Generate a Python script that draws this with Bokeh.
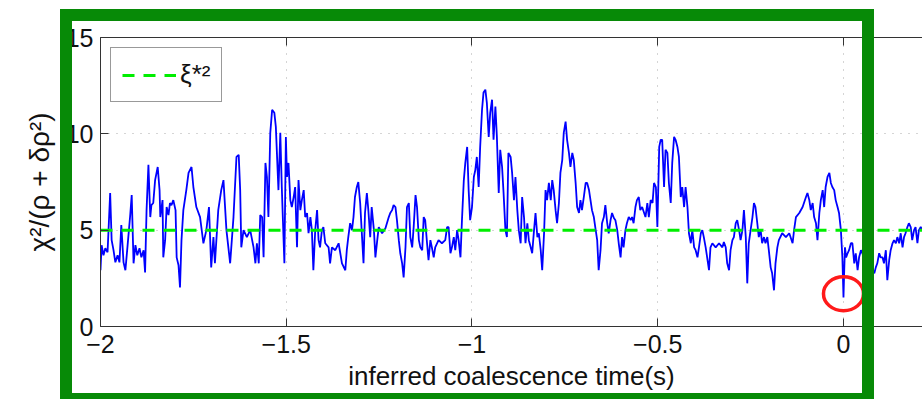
from bokeh.plotting import figure
from bokeh.models import (Range1d, LinearAxis, FixedTicker, Legend, LegendItem, Grid,
                          InlineStyleSheet)
from bokeh.embed import file_html
from bokeh.resources import INLINE

# ---- data (time in s, chi^2/(rho + delta rho^2)) ----
time_a = [-2.000, -1.997, -1.992, -1.987, -1.981, -1.974, -1.970, -1.965, -1.960, -1.954,
          -1.949, -1.944, -1.938, -1.933, -1.927, -1.920, -1.916, -1.911, -1.906, -1.901,
          -1.895, -1.890, -1.884, -1.880, -1.876, -1.871, -1.866, -1.863, -1.858, -1.853,
          -1.846, -1.841, -1.839, -1.833, -1.831, -1.826, -1.822, -1.817, -1.813, -1.809,
          -1.804, -1.798, -1.795, -1.790, -1.786, -1.782, -1.777, -1.769, -1.763, -1.755,
          -1.750, -1.742, -1.732, -1.723, -1.715, -1.708, -1.702, -1.696, -1.692, -1.683,
          -1.675, -1.669, -1.661, -1.651, -1.642, -1.634]
ratio_a = [2.92, 4.22, 3.70, 4.06, 3.85, 6.93, 4.48, 3.96, 3.33, 3.70,
           3.33, 5.26, 3.33, 2.92, 4.22, 5.78, 6.82, 3.28, 4.22, 3.70,
           4.06, 3.59, 3.96, 2.81, 6.04, 8.39, 5.68, 6.30, 6.41, 7.60,
           8.28, 7.08, 5.68, 6.56, 3.59, 4.48, 6.20, 5.78, 6.41, 6.30,
           6.56, 6.04, 3.59, 3.18, 2.03, 4.48, 6.04, 7.08, 7.97, 8.28,
           7.24, 6.20, 5.68, 4.32, 5.00, 6.20, 3.07, 4.64, 3.28, 6.04,
           7.08, 7.60, 5.00, 3.28, 5.68, 8.80]

time_b = [-1.628, -1.624, -1.621, -1.615, -1.606, -1.597, -1.588, -1.583, -1.579, -1.574,
          -1.570, -1.565, -1.561, -1.556, -1.552, -1.548, -1.543, -1.538, -1.532, -1.528,
          -1.521, -1.516, -1.512, -1.505, -1.501, -1.498, -1.494, -1.489, -1.485, -1.480,
          -1.476, -1.471, -1.467, -1.462, -1.458, -1.453, -1.449, -1.444, -1.440, -1.435,
          -1.431, -1.427, -1.422, -1.417, -1.413, -1.409, -1.404, -1.400, -1.395, -1.386,
          -1.382, -1.377, -1.368, -1.359, -1.350, -1.341, -1.337, -1.333, -1.328, -1.323,
          -1.319, -1.315, -1.310, -1.306, -1.301, -1.297, -1.292, -1.288, -1.283, -1.279,
          -1.274, -1.270]
ratio_b = [8.91, 7.08, 4.11, 5.00, 4.64, 5.00, 4.11, 3.28, 4.32, 3.28,
           5.78, 5.68, 3.59, 8.49, 7.76, 5.68, 10.05, 11.25, 11.09, 10.36,
           7.08, 10.05, 7.24, 3.28, 9.84, 7.76, 8.49, 6.56, 6.20, 6.72,
           7.24, 4.11, 7.60, 6.04, 6.56, 7.08, 5.68, 5.89, 4.84, 5.68,
           5.00, 2.92, 5.00, 6.04, 4.48, 4.11, 5.00, 5.16, 4.32, 4.11,
           3.28, 4.11, 3.96, 4.32, 3.28, 2.92, 3.96, 4.64, 5.36, 5.00,
           5.68, 6.72, 7.24, 7.50, 6.41, 5.00, 3.28, 5.89, 6.93, 6.04,
           4.64, 6.20]

time_c = [-1.264, -1.260, -1.255, -1.251, -1.242, -1.233, -1.224, -1.220, -1.215, -1.211,
          -1.206, -1.202, -1.197, -1.193, -1.188, -1.184, -1.179, -1.175, -1.170, -1.166,
          -1.161, -1.157, -1.152, -1.148, -1.143, -1.139, -1.134, -1.130, -1.126, -1.121,
          -1.117, -1.112, -1.108, -1.103, -1.099, -1.090, -1.081, -1.072, -1.067, -1.063,
          -1.058, -1.054, -1.049, -1.045, -1.040, -1.036, -1.031, -1.027, -1.022, -1.018,
          -1.013, -1.009, -1.005, -1.000, -0.995, -0.991, -0.987, -0.982, -0.978, -0.973,
          -0.969, -0.964, -0.960, -0.955, -0.951, -0.946, -0.942, -0.937, -0.933, -0.928,
          -0.924, -0.919, -0.915, -0.910, -0.906, -0.902]
ratio_c = [5.00, 3.59, 4.48, 5.16, 4.84, 5.10, 5.68, 5.89, 6.04, 6.30,
           6.20, 5.52, 4.48, 3.80, 3.28, 2.55, 4.11, 6.20, 6.41, 4.64,
           4.11, 5.16, 6.82, 6.20, 4.48, 4.11, 3.96, 5.68, 5.52, 4.32,
           3.44, 4.48, 4.11, 3.59, 4.11, 4.48, 4.32, 4.48, 5.16, 5.16,
           3.80, 4.11, 4.64, 3.96, 5.00, 4.48, 3.59, 5.52, 7.60, 8.49,
           9.32, 7.08, 5.52, 6.20, 7.76, 8.13, 8.80, 7.24, 9.32, 11.25,
           12.14, 12.29, 11.61, 9.84, 11.09, 11.77, 9.69, 11.41, 9.84, 6.93,
           9.17, 8.28, 6.93, 5.00, 4.64, 9.01]

time_d = [-0.896, -0.892, -0.887, -0.883, -0.878, -0.874, -0.869, -0.865, -0.860, -0.856,
          -0.851, -0.847, -0.842, -0.838, -0.833, -0.829, -0.824, -0.820, -0.815, -0.811,
          -0.806, -0.802, -0.798, -0.793, -0.788, -0.784, -0.780, -0.775, -0.771, -0.766,
          -0.762, -0.757, -0.753, -0.748, -0.744, -0.739, -0.735, -0.730, -0.726, -0.721,
          -0.717, -0.712, -0.708, -0.704, -0.699, -0.694, -0.690, -0.685, -0.681, -0.677,
          -0.672, -0.667, -0.663, -0.659, -0.654, -0.650, -0.645, -0.641, -0.636, -0.632,
          -0.627, -0.623, -0.618, -0.614, -0.609, -0.605, -0.600, -0.596, -0.592, -0.587,
          -0.583, -0.578, -0.573, -0.569, -0.565, -0.560, -0.556, -0.551, -0.547, -0.542,
          -0.533]
ratio_d = [8.80, 7.97, 6.56, 7.76, 6.04, 5.00, 4.32, 6.72, 5.68, 4.32,
           5.36, 4.48, 4.11, 3.80, 5.00, 5.89, 4.64, 4.84, 3.96, 2.92,
           4.84, 7.08, 6.56, 7.45, 6.56, 7.60, 7.08, 6.04, 5.36, 6.41,
           7.97, 8.65, 10.05, 10.63, 9.69, 9.01, 8.28, 9.01, 8.65, 7.45,
           6.20, 5.89, 6.56, 6.04, 6.72, 7.45, 7.45, 7.08, 6.56, 6.04,
           5.68, 5.00, 4.48, 2.92, 3.96, 5.36, 5.68, 6.30, 5.36, 4.84,
           5.52, 5.89, 5.63, 5.52, 5.00, 4.32, 3.59, 4.64, 4.11, 5.00,
           5.36, 5.68, 5.52, 5.68, 5.36, 6.20, 6.56, 6.72, 6.04, 6.20,
           5.68]

time_e = [-0.528, -0.524, -0.519, -0.514, -0.510, -0.505, -0.501, -0.496, -0.492, -0.488,
          -0.483, -0.479, -0.474, -0.470, -0.465, -0.461, -0.456, -0.452, -0.447, -0.443,
          -0.438, -0.434, -0.429, -0.425, -0.420, -0.416, -0.411, -0.407, -0.402, -0.398,
          -0.393, -0.389, -0.384, -0.380, -0.376, -0.371, -0.367, -0.362, -0.358, -0.353,
          -0.344, -0.335, -0.326, -0.322, -0.317, -0.313, -0.308, -0.304, -0.299, -0.295,
          -0.290, -0.286, -0.281, -0.277, -0.272, -0.268, -0.263, -0.259, -0.255, -0.250,
          -0.245, -0.241, -0.237, -0.232, -0.228, -0.223, -0.219, -0.214, -0.210, -0.205,
          -0.201, -0.196, -0.192, -0.187, -0.183, -0.178, -0.174, -0.165]
ratio_e = [6.41, 5.68, 6.56, 6.41, 7.45, 7.24, 5.16, 9.32, 9.69, 9.69,
           7.24, 9.17, 9.01, 7.45, 6.41, 8.49, 9.84, 9.69, 9.32, 8.80,
           6.72, 7.24, 6.20, 7.24, 6.20, 4.84, 4.32, 5.00, 4.11, 3.96,
           3.59, 4.11, 4.84, 5.00, 4.64, 4.11, 3.59, 2.92, 4.11, 4.32,
           4.11, 4.32, 4.11, 4.38, 4.11, 3.28, 2.92, 3.96, 4.48, 4.64,
           5.36, 5.52, 5.00, 4.48, 5.00, 6.04, 4.64, 2.24, 4.32, 5.00,
           5.68, 6.41, 6.20, 5.36, 4.64, 5.00, 4.32, 4.64, 4.32, 4.64,
           3.96, 3.07, 2.76, 1.88, 3.28, 4.11, 4.48, 4.84]

time_f = [-0.155, -0.146, -0.137, -0.133, -0.128, -0.119, -0.110, -0.101, -0.097, -0.092,
          -0.088, -0.083, -0.079, -0.074, -0.070, -0.065, -0.061, -0.056, -0.052, -0.048,
          -0.043, -0.038, -0.034, -0.030, -0.025, -0.021, -0.016, -0.012, -0.007, -0.003,
          0.000, 0.002, 0.004, 0.007, 0.011, 0.015, 0.020, 0.024, 0.029, 0.033,
          0.038, 0.042, 0.047, 0.059, 0.070, 0.083, 0.087, 0.091, 0.096, 0.100,
          0.105, 0.109, 0.114, 0.118, 0.123, 0.127, 0.132, 0.136, 0.141, 0.145,
          0.150, 0.154, 0.159, 0.163, 0.167, 0.172, 0.176, 0.181, 0.185, 0.190,
          0.194, 0.199, 0.203, 0.208, 0.213]
ratio_f = [4.64, 4.84, 4.32, 5.00, 5.68, 5.89, 6.20, 6.72, 6.93, 6.56,
           6.04, 6.41, 5.68, 5.36, 4.48, 5.89, 6.56, 7.08, 6.20, 7.24,
           7.76, 7.97, 7.45, 7.24, 7.08, 6.56, 6.20, 5.89, 5.00, 3.59,
           1.51, 2.92, 4.11, 3.59, 3.80, 3.96, 4.32, 4.32, 3.28, 3.80,
           2.92, 3.59, 3.96, 3.44, 3.18, 2.76, 3.07, 3.28, 3.80, 3.59,
           3.59, 3.28, 3.96, 2.40, 3.44, 3.96, 4.32, 4.48, 4.32, 4.64,
           4.32, 4.84, 4.11, 4.64, 4.84, 5.16, 5.36, 5.16, 4.48, 5.00,
           5.16, 4.32, 5.00, 5.16, 5.00]

threshold_t = [-2.0, 0.2127]
threshold_v = [5.0, 5.0]          # xi*^2
threshold_label = "ξ*²"

highlight_t = [0.0]               # circled sample near inferred coalescence
highlight_v = [1.7]

x_ticks = [-2, -1.5, -1, -0.5, 0]
x_tick_labels = ["−2", "−1.5", "−1", "−0.5", "0"]
y_ticks = [0, 5, 10, 15]
y_tick_labels = ["0", "5", "10", "15"]

x_label = "inferred coalescence time(s)"
y_label = "χ²/(ρ + δρ²)"

time_s = time_a + time_b + time_c + time_d + time_e + time_f
ratio = ratio_a + ratio_b + ratio_c + ratio_d + ratio_e + ratio_f
assert len(time_s) == len(ratio)

FONT = "Liberation Sans"
AX = "#333333"
FRAME_GREEN = "#078a07"

p = figure(width=922, height=399, output_backend="svg", toolbar_location=None,
           x_range=Range1d(-2.0, 0.2127), y_range=Range1d(0, 15),
           x_axis_type=None, y_axis_type=None,
           min_border_left=100, min_border_right=0, min_border_top=37,
           min_border_bottom=73)
p.outline_line_color = None
p.background_fill_color = "white"
p.border_fill_color = "white"


def style_axis(ax, labels_visible=True):
    ax.major_tick_in = 8
    ax.major_tick_out = 0
    ax.minor_tick_in = 0
    ax.minor_tick_out = 0
    ax.axis_line_color = AX
    ax.axis_line_width = 1
    ax.major_tick_line_color = AX
    ax.major_label_text_font = FONT
    ax.major_label_text_font_size = "25px"
    ax.major_label_text_color = "#111111" if labels_visible else None
    ax.axis_label_text_font = FONT
    ax.axis_label_text_font_size = "26px"
    ax.axis_label_text_font_style = "normal"
    ax.axis_label_text_color = "#111111"


xaxis = LinearAxis(ticker=FixedTicker(ticks=x_ticks),
                   major_label_overrides=dict(zip(x_ticks, x_tick_labels)),
                   axis_label=x_label)
style_axis(xaxis)
xaxis.major_label_standoff = 8
xaxis.axis_label_standoff = 5
p.add_layout(xaxis, "below")

yaxis = LinearAxis(ticker=FixedTicker(ticks=y_ticks),
                   major_label_overrides=dict(zip(y_ticks, y_tick_labels)),
                   axis_label=y_label)
style_axis(yaxis)
yaxis.axis_label_text_font_size = "28px"
yaxis.major_label_standoff = 7
yaxis.axis_label_standoff = 8
p.add_layout(yaxis, "left")

topaxis = LinearAxis(ticker=FixedTicker(ticks=x_ticks))
style_axis(topaxis, labels_visible=False)
topaxis.major_label_standoff = 0
p.add_layout(topaxis, "above")

for dim, ticks in ((0, x_ticks), (1, y_ticks)):
    g = Grid(dimension=dim, ticker=FixedTicker(ticks=ticks),
             grid_line_color="#aaaaaa", grid_line_dash="1 7", grid_line_width=1)
    p.add_layout(g)

p.line(time_s, ratio, line_color="#0000ff", line_width=1.8)

thr = p.line(threshold_t, threshold_v, line_color="#00ee00", line_width=3,
             line_dash="12 9")

p.ellipse(x=highlight_t, y=highlight_v, width=40, height=34,
          width_units="screen", height_units="screen",
          fill_color=None, line_color="#ff1a1a", line_width=3.5)

legend = Legend(items=[LegendItem(label=threshold_label, renderers=[thr])],
                location="top_left", margin=10, padding=11, spacing=0,
                glyph_width=54, glyph_height=30, label_standoff=4,
                label_text_font=FONT, label_text_font_size="26px",
                label_text_color="#111111",
                border_line_color=AX, border_line_width=1,
                background_fill_color="white", background_fill_alpha=1)
p.add_layout(legend)

# thick green highlight frame drawn over the chart (outside the plot frame too)
p.stylesheets = [InlineStyleSheet(css=f"""
:host {{ position: relative; overflow: hidden; }}
:host::after {{
  content: "";
  position: absolute;
  left: 60px; top: 9px;
  width: 790px; height: 372px;
  border-style: solid;
  border-color: {FRAME_GREEN};
  border-width: 12px 12px 6px 12px;
  box-sizing: content-box;
  pointer-events: none;
  z-index: 10;
}}
""")]

open("out.html", "w").write(file_html(p, INLINE))
